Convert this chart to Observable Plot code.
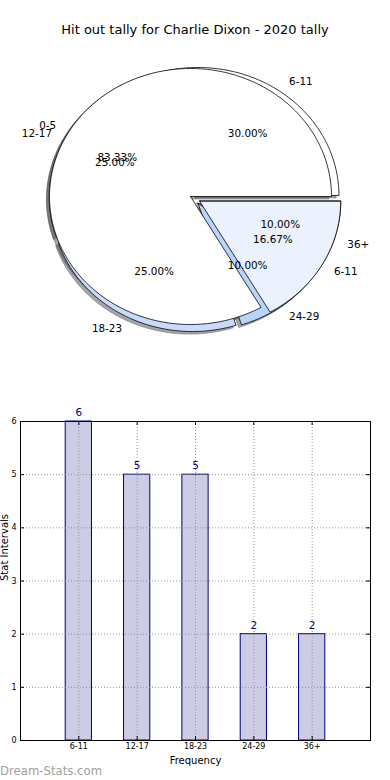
<!DOCTYPE html>
<html><head><meta charset="utf-8">
<script src="https://cdn.jsdelivr.net/npm/d3@7"></script>
<script src="https://cdn.jsdelivr.net/npm/@observablehq/plot@0.6"></script>
<style>
body{margin:0;background:#fff;font-family:"DejaVu Sans",sans-serif;}
#wrap{position:relative;width:390px;height:780px;overflow:hidden;background:#fff;}
#title{position:absolute;left:0;top:22px;width:390px;text-align:center;font-size:13px;line-height:16px;color:#000;}
#pie{position:absolute;left:0;top:0;}
#bar{position:absolute;left:0;top:400px;}
#wm{position:absolute;left:0;top:763px;font-size:11.7px;color:#a0a0a0;line-height:16px;}
</style></head><body>
<div id="wrap"><div id="pie"></div><div id="bar"></div><div id="title">Hit out tally for Charlie Dixon - 2020 tally</div><div id="wm">Dream-Stats.com</div></div>
<script>
// ---- data ----
const pieOneCategories = ["0-5", "6-11"];
const pieOneValues = [5, 1];
const categories = ["6-11", "12-17", "18-23", "24-29", "36+"];
const values = [6, 5, 5, 2, 2];
const yTicks = [0, 1, 2, 3, 4, 5, 6];

// ---- styles ----
const pieOneColors = ["#ffffff", "#ecf2fd"];
const pieTwoColors = ["#ffffff", "#ffffff", "#c8dbfc", "#b9d4fb", "#ffffff"];
const fontFam = "DejaVu Sans";

function pieSlices(cats, vals, center, explode, colors) {
  const total = d3.sum(vals);
  let a = 0;
  return cats.map((c, i) => {
    const frac = vals[i] / total;
    const a0 = a, a1 = a + frac * 2 * Math.PI; a = a1;
    const mid = (a0 + a1) / 2;
    const ox = center[0] + explode[i] * Math.cos(mid);
    const oy = center[1] + explode[i] * Math.sin(mid);
    const pts = [[ox, oy]];
    const n = Math.max(2, Math.ceil((a1 - a0) / (Math.PI / 180)));
    for (let k = 0; k <= n; k++) {
      const t = a0 + (a1 - a0) * k / n;
      pts.push([ox + Math.cos(t), oy + Math.sin(t)]);
    }
    pts.push([ox, oy]);
    return {cat: c, pct: (frac * 100).toFixed(2) + "%", mid, ox, oy, pts, color: colors[i],
      lx: ox + 1.1 * Math.cos(mid), ly: oy + 1.1 * Math.sin(mid),
      px: ox + 0.6 * Math.cos(mid), py: oy + 0.6 * Math.sin(mid)};
  });
}

const pieTwo = pieSlices(categories, values, [0.031, -0.022], categories.map(() => 0.037), pieTwoColors);
const pieOne = pieSlices(pieOneCategories, pieOneValues, [0, 0], [0, 0.075], pieOneColors);
const all = [...pieTwo, ...pieOne];

const pieMarks = [];
for (const s of all) {
  pieMarks.push(Plot.line(s.pts.map(p => [p[0] - 0.02, p[1] - 0.02]), {
    x: d => d[0], y: d => d[1], fill: "#4d4d4d", fillOpacity: 0.5, stroke: "#4d4d4d", strokeOpacity: 0.5, strokeWidth: 0.8
  }));
}
for (const s of all) {
  pieMarks.push(Plot.line(s.pts, {
    x: d => d[0], y: d => d[1], fill: s.color, stroke: "#000", strokeWidth: 0.8, strokeLinejoin: "miter"
  }));
}
const txt = {fontSize: 10.4, fill: "#000", fontFamily: fontFam};
pieMarks.push(Plot.text(all.filter(s => Math.cos(s.mid) >= 0), {x: "lx", y: "ly", text: "cat", textAnchor: "start", ...txt}));
pieMarks.push(Plot.text(all.filter(s => Math.cos(s.mid) < 0), {x: "lx", y: "ly", text: "cat", textAnchor: "end", ...txt}));
pieMarks.push(Plot.text(all, {x: "px", y: "py", text: "pct", textAnchor: "middle", ...txt}));

const pie = Plot.plot({
  width: 390, height: 400, margin: 0,
  style: {fontFamily: fontFam, background: "transparent", overflow: "visible"},
  x: {domain: [-1, 1], range: [49, 331], axis: null},
  y: {domain: [-1, 1], range: [324, 68], axis: null},
  marks: pieMarks
});
document.getElementById("pie").append(pie);

// ---- bar chart ----
const idx = categories.map((_, i) => i);
const barW = 0.45;
const tx = 4 * 6 / 350, ty = 4 * 6 / 319;
const grid = {stroke: "#8a8a8a", strokeDasharray: "1,2", strokeWidth: 0.9};
const bar = Plot.plot({
  width: 390, height: 380, marginLeft: 20, marginRight: 20, marginTop: 21, marginBottom: 40,
  style: {fontFamily: fontFam, background: "transparent", overflow: "visible", color: "#000"},
  x: {domain: [-1, 5]},
  y: {domain: [0, 6]},
  marks: [
    Plot.rect(idx, {x1: i => i - barW / 2, x2: i => i + barW / 2, y1: 0, y2: i => values[i], fill: "#ccccE4", stroke: "#000080", strokeWidth: 1}),
    Plot.ruleY(yTicks, {y: d => d, ...grid}),
    Plot.ruleX(idx, {x: d => d, ...grid}),
    Plot.ruleY(yTicks, {y: d => d, x1: -1, x2: -1 + tx, stroke: "#000"}),
    Plot.ruleY(yTicks, {y: d => d, x1: 5 - tx, x2: 5, stroke: "#000"}),
    Plot.ruleX(idx, {x: d => d, y1: 0, y2: ty, stroke: "#000"}),
    Plot.ruleX(idx, {x: d => d, y1: 6 - ty, y2: 6, stroke: "#000"}),
    Plot.frame({stroke: "#000", strokeWidth: 1}),
    Plot.axisY(yTicks, {tickFormat: d => String(d), tickSize: 0, tickPadding: 4, fontSize: 8, label: null}),
    Plot.axisX(idx, {tickFormat: i => categories[i], tickSize: 0, tickPadding: 3, fontSize: 8, label: null}),
    Plot.text(idx, {x: d => d, y: d => values[d], text: d => String(values[d]), dy: -9, fill: "#000080", fontSize: 10.5}),
    Plot.text(["Stat Intervals"], {frameAnchor: "left", rotate: -90, dx: -16, fontSize: 10, lineAnchor: "middle", fill: "#000"}),
    Plot.text(["Frequency"], {frameAnchor: "bottom", dy: 20, fontSize: 10, lineAnchor: "middle", fill: "#000"})
  ]
});
document.getElementById("bar").append(bar);
</script>
</body></html>
